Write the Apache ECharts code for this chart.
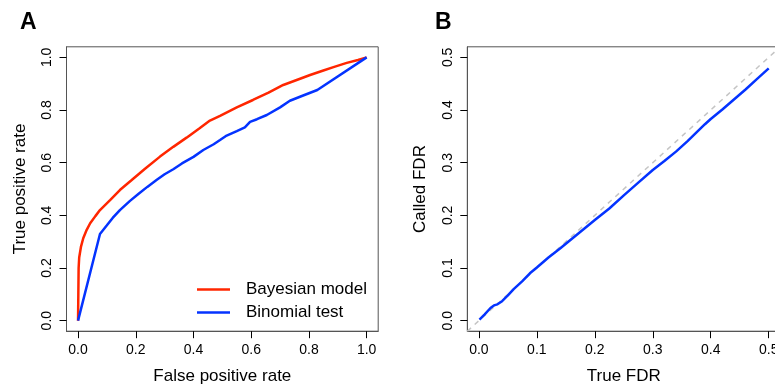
<!DOCTYPE html>
<html>
<head>
<meta charset="utf-8">
<script src="https://cdn.jsdelivr.net/npm/echarts@6/dist/echarts.min.js"></script>
<style>html,body{margin:0;padding:0;background:#fff;}#c{width:775px;height:385px;}</style>
</head>
<body>
<div id="c"></div>
<script>
// Panel A: ROC curves [FPR, TPR]
const bayesianROC = [[0,0],[0.001,0.1],[0.002,0.2],[0.004,0.24],[0.01,0.28],[0.018,0.313],[0.03,0.345],[0.042,0.37],[0.06,0.397],[0.076,0.42],[0.111,0.458],[0.145,0.496],[0.186,0.534],[0.23,0.575],[0.284,0.623],[0.33,0.66],[0.376,0.695],[0.42,0.73],[0.457,0.76],[0.492,0.778],[0.55,0.81],[0.606,0.838],[0.66,0.866],[0.711,0.895],[0.76,0.915],[0.804,0.933],[0.85,0.95],[0.885,0.963],[0.931,0.979],[0.97,0.99],[1,1]];
const binomialROC = [[0,0],[0.076,0.329],[0.1,0.362],[0.12,0.39],[0.145,0.42],[0.18,0.455],[0.21,0.482],[0.24,0.508],[0.273,0.535],[0.3,0.556],[0.33,0.575],[0.36,0.597],[0.4,0.622],[0.434,0.648],[0.47,0.67],[0.492,0.686],[0.515,0.703],[0.55,0.72],[0.578,0.734],[0.596,0.755],[0.62,0.765],[0.654,0.781],[0.7,0.81],[0.734,0.835],[0.78,0.855],[0.829,0.876],[1,1]];
// Panel B: [True FDR, Called FDR]
const calledFDR = [[0.001,0.002],[0.01,0.012],[0.02,0.024],[0.026,0.029],[0.032,0.031],[0.04,0.037],[0.05,0.048],[0.06,0.06],[0.075,0.075],[0.088,0.09],[0.1,0.101],[0.12,0.12],[0.14,0.137],[0.16,0.155],[0.18,0.173],[0.2,0.191],[0.225,0.213],[0.25,0.238],[0.275,0.262],[0.3,0.286],[0.32,0.303],[0.34,0.321],[0.36,0.341],[0.375,0.357],[0.39,0.373],[0.4,0.383],[0.42,0.401],[0.44,0.42],[0.46,0.439],[0.48,0.459],[0.49,0.469],[0.5,0.479]];
const identityLine = [[-0.02,-0.02],[0.52,0.52]];
// Tick values
const ticksA = [0,0.2,0.4,0.6,0.8,1.0];
const ticksB = [0,0.1,0.2,0.3,0.4,0.5];
const legendNames = ['Bayesian model','Binomial test'];

const FONT = '"Liberation Sans", Arial, Helvetica, sans-serif';
const RED = '#ff2600', BLUE = '#0433ff';

function xAxisDef(gi, min, max, ticks, name) {
  return {
    type:'value', gridIndex:gi, min:min, max:max, name:name, position:'bottom',
    nameLocation:'middle', nameGap:37,
    nameTextStyle:{fontSize:17, color:'#000', fontFamily:FONT},
    splitLine:{show:false}, axisLine:{show:true, onZero:false, lineStyle:{color:'#555', width:1}},
    axisTick:{show:true, inside:false, length:7, customValues:ticks, lineStyle:{color:'#000'}},
    axisLabel:{show:true, inside:false, margin:12, fontSize:14, color:'#000', fontFamily:FONT, customValues:ticks,
      formatter:v=>Number(v).toFixed(1)}
  };
}
function yAxisDef(gi, min, max, ticks, name) {
  return {
    type:'value', gridIndex:gi, min:min, max:max, name:name, position:'left',
    nameLocation:'middle', nameGap:38,
    nameTextStyle:{fontSize:17, color:'#000', fontFamily:FONT},
    splitLine:{show:false}, axisLine:{show:true, onZero:false, lineStyle:{color:'#555', width:1}},
    axisTick:{show:true, inside:false, length:7, customValues:ticks, lineStyle:{color:'#000'}},
    axisLabel:{show:true, inside:false, margin:12, rotate:90, fontSize:14, color:'#000', fontFamily:FONT, customValues:ticks,
      formatter:v=>Number(v).toFixed(1)}
  };
}

const chart = echarts.init(document.getElementById('c'), null, {renderer:'canvas'});
chart.setOption({
  animation:false,
  backgroundColor:'#fff',
  title:[
    {text:'A', left:20, top:11, padding:0, textStyle:{fontSize:23, fontWeight:'bold', color:'#000', fontFamily:FONT}},
    {text:'B', left:435, top:11, padding:0, textStyle:{fontSize:23, fontWeight:'bold', color:'#000', fontFamily:FONT}}
  ],
  grid:[
    {left:66.5, top:46.8, width:311.7, height:284.4, containLabel:false, outerBoundsMode:'none', show:true, borderColor:'#555', borderWidth:1, backgroundColor:'transparent'},
    {left:467.3, top:46.8, width:313, height:284.4, containLabel:false, outerBoundsMode:'none', show:true, borderColor:'#555', borderWidth:1, backgroundColor:'transparent'}
  ],
  xAxis:[xAxisDef(0,-0.04,1.04,ticksA,'False positive rate'), xAxisDef(1,-0.02,0.52,ticksB,'True FDR')],
  yAxis:[yAxisDef(0,-0.04,1.04,ticksA,'True positive rate'), yAxisDef(1,-0.02,0.52,ticksB,'Called FDR')],
  legend:{
    data:legendNames, orient:'vertical', left:197, top:281, padding:0,
    icon:'rect', itemWidth:33, itemHeight:2.5, itemGap:6,
    textStyle:{fontSize:17, lineHeight:16, color:'#000', fontFamily:FONT, padding:[0,0,0,11]}
  },
  series:[
    {name:legendNames[0], type:'line', xAxisIndex:0, yAxisIndex:0, data:bayesianROC, symbol:'none', showSymbol:false,
      color:RED, lineStyle:{color:RED, width:2.5}},
    {name:legendNames[1], type:'line', xAxisIndex:0, yAxisIndex:0, data:binomialROC, symbol:'none', showSymbol:false,
      color:BLUE, lineStyle:{color:BLUE, width:2.5}},
    {name:'y = x', type:'line', xAxisIndex:1, yAxisIndex:1, data:identityLine, symbol:'none', showSymbol:false, silent:true,
      color:'#c4c4c4', lineStyle:{color:'#c4c4c4', width:1.5, type:[5,5]}},
    {name:'Called FDR', type:'line', xAxisIndex:1, yAxisIndex:1, data:calledFDR, symbol:'none', showSymbol:false,
      color:BLUE, lineStyle:{color:BLUE, width:2.5}}
  ]
});
</script>
</body>
</html>
